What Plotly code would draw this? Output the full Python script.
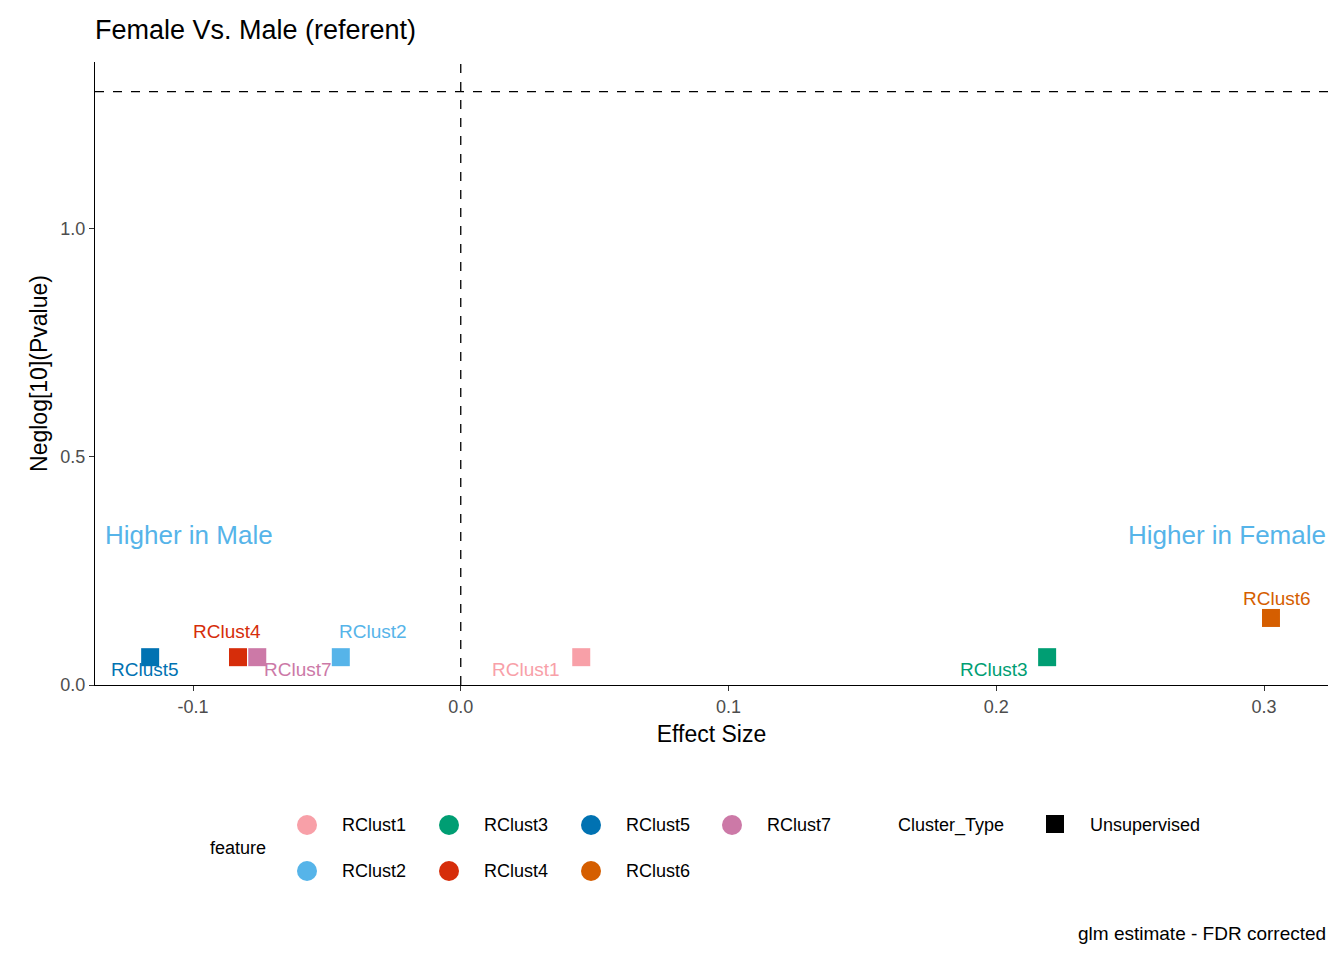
import plotly.graph_objects as go

# data
features = ["RClust1", "RClust2", "RClust3", "RClust4", "RClust5", "RClust6", "RClust7"]
effect = [0.045, -0.0448, 0.219, -0.0832, -0.116, 0.3026, -0.076]
neglogp = [0.061, 0.061, 0.061, 0.061, 0.061, 0.147, 0.061]
colors = ["#F8A0A8", "#56B4E9", "#009E73", "#D62D0A", "#0072B2", "#D55E00", "#CC79A7"]
# label offsets in pixels (ggrepel-like)
label_dx = [-55, 32, -53, -11, -5, 6, 41]
label_dy = [-12, 26, -12, 26, -12, 19, -12]

OFF = 8  # page body margin
W, H = 1344 - 2 * OFF, 960 - 2 * OFF
L, T = 95 - OFF, 62 - OFF
R = 1344 - 1328 - OFF
PW = 1328 - 95
PH = 685 - 62
B = H - T - PH


def px(X):
    return (X - 95) / PW


def py(Y):
    return (685 - Y) / PH


FONT = "Liberation Sans, Arial, sans-serif"

fig = go.Figure()
fig.add_trace(go.Scatter(
    x=effect, y=neglogp, mode="markers",
    marker=dict(symbol="square", size=18, color=colors),
    showlegend=False, hoverinfo="text", text=features,
))

for f, x, y, c, dx, dy in zip(features, effect, neglogp, colors, label_dx, label_dy):
    fig.add_annotation(x=x, y=y, text=f, showarrow=False, xshift=dx, yshift=dy,
                       font=dict(size=19, color=c, family=FONT))

fig.add_hline(y=1.301, line_dash="dash", line_color="black", line_width=1.3)
fig.add_vline(x=0, line_dash="dash", line_color="black", line_width=1.3)

fig.add_annotation(x=-0.1336, y=0.329, text="Higher in Male", showarrow=False,
                   xanchor="left", font=dict(size=26, color="#56B4E9", family=FONT))
fig.add_annotation(x=0.3239, y=0.329, text="Higher in Female", showarrow=False,
                   xanchor="right", font=dict(size=26, color="#56B4E9", family=FONT))

# manual legend (ggplot-style, below the plot)
leg_font = dict(size=18, color="black", family=FONT)
fig.add_annotation(xref="paper", yref="paper", x=px(208), y=py(848), text="feature",
                   showarrow=False, xanchor="left", yanchor="middle", font=leg_font)
cols = [307, 449, 591, 732]
rows = [825, 871]
for i, (f, c) in enumerate(zip(features, colors)):
    cx, cy = cols[i // 2], rows[i % 2]
    fig.add_shape(type="circle", xref="paper", yref="paper",
                  x0=px(cx - 10), x1=px(cx + 10), y0=py(cy + 10), y1=py(cy - 10),
                  fillcolor=c, line=dict(width=0))
    fig.add_annotation(xref="paper", yref="paper", x=px(cx + 33), y=py(cy), text=f,
                       showarrow=False, xanchor="left", yanchor="middle", font=leg_font)
fig.add_annotation(xref="paper", yref="paper", x=px(896), y=py(825), text="Cluster_Type",
                   showarrow=False, xanchor="left", yanchor="middle", font=leg_font)
fig.add_shape(type="rect", xref="paper", yref="paper",
              x0=px(1046), x1=px(1064), y0=py(833), y1=py(815),
              fillcolor="black", line=dict(width=0))
fig.add_annotation(xref="paper", yref="paper", x=px(1088), y=py(825), text="Unsupervised",
                   showarrow=False, xanchor="left", yanchor="middle", font=leg_font)
fig.add_annotation(xref="paper", yref="paper", x=1, y=py(933), text="glm estimate - FDR corrected",
                   showarrow=False, xanchor="right", yanchor="middle",
                   font=dict(size=19, color="black", family=FONT))

fig.update_layout(
    width=W, height=H,
    margin=dict(l=L, r=R, t=T, b=B),
    plot_bgcolor="white", paper_bgcolor="white",
    font=dict(family=FONT),
    title=dict(text="Female Vs. Male (referent)", x=L / W, xanchor="left",
               y=1 - (30 - OFF) / H, yanchor="middle", font=dict(size=27, color="black")),
    showlegend=False,
    xaxis=dict(range=[-0.1366, 0.3239], tickvals=[-0.1, 0, 0.1, 0.2, 0.3],
               ticktext=["-0.1", "0.0", "0.1", "0.2", "0.3"],
               showline=True, linecolor="black", linewidth=1.3, ticks="outside",
               tickcolor="#333333", ticklen=5, showgrid=False, zeroline=False,
               tickfont=dict(size=18, color="#4d4d4d"),
               title=dict(text="Effect Size", font=dict(size=23, color="black"), standoff=10)),
    yaxis=dict(range=[0, 1.366], tickvals=[0, 0.5, 1.0], ticktext=["0.0", "0.5", "1.0"],
               showline=True, linecolor="black", linewidth=1.3, ticks="outside",
               tickcolor="#333333", ticklen=5, showgrid=False, zeroline=False,
               tickfont=dict(size=18, color="#4d4d4d"),
               title=dict(text="Neglog[10](Pvalue)", font=dict(size=23, color="black"), standoff=6)),
)

fig.write_html("out.html")
